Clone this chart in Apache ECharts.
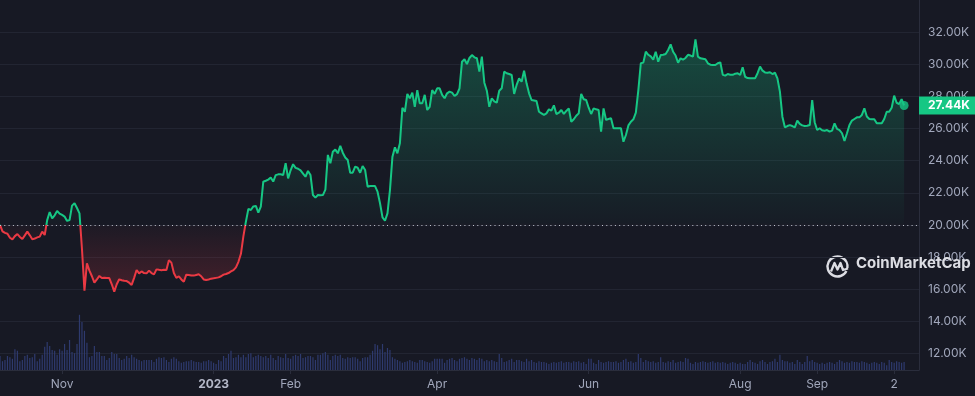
<!DOCTYPE html>
<html><head><meta charset="utf-8">
<script src="https://cdn.jsdelivr.net/npm/echarts@6/dist/echarts.min.js"></script>
<style>html,body{margin:0;padding:0;background:#171924}#c{width:975px;height:396px}</style>
</head><body><div id="c"></div>
<script>
// Daily BTC price (K USD), Oct 7 2022 .. Oct 6 2023
const prices = [
20.0,19.6,19.5,19.45,19.2,19.1,19.3,19.43,19.25,19.12,
19.35,19.58,19.35,19.1,19.15,19.22,19.27,19.58,19.37,20.3,
20.8,20.4,20.6,20.87,20.7,20.62,20.52,20.25,20.3,21.2,
21.35,21.05,20.72,18.5,15.9,17.6,17.15,16.8,16.4,16.6,
16.82,16.69,16.7,16.69,16.69,16.3,15.84,16.3,16.61,16.55,
16.52,16.5,16.4,16.26,16.7,17.19,16.98,17.1,17.0,16.98,
17.15,17.0,16.92,17.23,17.2,17.18,17.2,17.19,17.8,17.65,
17.0,16.7,16.8,16.6,16.46,16.9,16.88,16.85,16.84,16.88,
16.92,16.8,16.6,16.57,16.6,16.65,16.67,16.7,16.73,16.8,
16.9,16.94,17.0,17.1,17.18,17.35,17.7,18.2,19.3,20.2,
21.0,20.93,21.15,21.18,20.76,21.14,22.69,22.75,22.82,22.95,
22.7,23.1,23.15,23.15,23.11,23.84,22.9,23.4,23.78,23.55,
23.5,23.4,23.2,23.0,23.36,23.11,21.86,21.7,21.86,21.85,
21.86,22.2,24.36,23.84,24.56,24.7,24.46,24.92,24.5,24.2,
24.04,23.25,23.25,23.63,23.56,23.25,23.67,23.42,22.38,22.42,
22.42,22.42,22.07,21.35,20.47,20.26,20.72,22.17,24.25,24.83,
24.46,25.08,27.3,27.05,28.16,27.89,28.24,27.36,28.4,27.58,
27.58,28.1,27.16,27.36,28.4,28.16,28.51,28.51,28.1,27.89,
28.2,28.3,28.24,28.03,28.15,28.5,30.17,30.32,30.02,30.4,
30.58,30.44,30.38,29.55,30.48,28.86,28.36,27.36,27.89,27.7,
27.61,28.36,28.51,29.55,29.45,29.4,29.34,28.16,28.72,29.13,
28.92,29.61,28.82,28.2,27.78,27.75,27.72,27.05,26.95,26.85,
26.95,27.2,27.12,27.45,26.91,26.99,27.16,26.91,27.1,27.26,
26.43,26.58,26.8,26.95,28.16,27.83,27.78,27.3,26.91,27.26,
27.2,27.16,25.81,27.26,26.54,26.6,26.64,26.02,26.02,26.02,
26.02,25.18,25.6,26.2,26.43,26.58,27.0,28.4,30.07,30.11,
30.79,30.6,30.5,30.3,30.79,30.17,30.58,30.6,30.65,30.9,
31.25,30.79,30.55,30.1,30.38,30.3,30.4,30.6,30.55,30.48,
31.56,30.48,30.38,30.35,30.32,30.07,29.98,29.96,29.96,30.07,
30.13,29.35,29.3,29.4,29.36,29.35,29.42,29.45,29.34,29.82,
29.23,29.15,29.13,29.13,29.13,29.45,29.86,29.61,29.5,29.48,
29.51,29.4,29.48,29.13,28.3,26.74,26.08,26.16,26.22,26.16,
26.08,26.5,26.29,26.2,26.16,26.18,26.22,27.78,26.4,25.91,
26.02,25.9,25.87,25.91,25.81,25.87,26.33,25.98,25.91,25.71,
25.23,25.71,26.22,26.5,26.6,26.7,26.7,26.85,27.26,26.75,
26.6,26.58,26.58,26.33,26.33,26.33,26.6,27.05,27.05,27.3,
28.05,27.61,27.53,27.83,27.44
];
// Daily volume (billion USD)
const volumes = [
35,22,25,35,32,28,52, 48,22,25,35,38,30,32, 40,22,28,38,58,70,60,
50,48,38,52,48,65,50, 75,45,42,65,138,120,98, 68,32,35,60,45,45,35,
35,25,30,45,40,40,30, 25,28,35,30,38,32,28, 25,22,25,25,25,25,20,
28,32,30,32,25,20,28, 32,28,22,18,20,22,22, 25,22,20,20,18,22,22,
25,22,18,15,25,22,35, 30,40,48,30,32,38,32, 38,32,40,42,32,35,38,
35,32,35,30,38,30,25, 35,32,30,40,30,28,35, 38,35,40,30,32,35,35,
32,25,38,38,42,45,38, 25,35,38,35,38,30,28, 32,30,32,32,28,22,30,
32,32,38,48,65,62,52, 65,45,55,50,32,28,25, 22,18,20,22,25,22,20,
18,25,25,22,20,18,22, 28,28,28,28,18,25,28, 30,25,22,28,30,32,28,
25,30,28,25,30,28,22,25,22,
25,22,20,40,30,20,22, 25,28,20,25,25,22,20, 28,22,25,20,18,22,20,
20,18,15,18,20,18,20, 22,18,20,20,18,22,20, 22,18,20,15,28,28,18,
15,25,20,18,20,22,20, 20,22,18,20,25,28,20, 22,18,20,40,30,20,25,
22,20,22,18,20,32,20, 18,22,20,25,18,20,22, 20,30,28,18,15,20,18,
20,22,20,18,20,22,18, 20,18,20,18,15,18,20, 18,15,18,15,15,20,25,
20,18,15,22,25,20,15, 20,22,28,20,38,25,22, 22,18,20,15,25,20,15,
20,35,22,25,20,18,15, 18,15,18,20,18,15,20, 25,22,18,20,18,22,20,
20,18,22,20,18,15,18, 20,18,15,20,18,12,25, 20,18,22,20,18,20
];
const tickDates = ['2022-11-01','2023-01-01','2023-02-01','2023-04-01','2023-06-01','2023-08-01','2023-09-01','2023-10-02'];
const tickLabels = ['Nov','2023','Feb','Apr','Jun','Aug','Sep','2'];
const baseline = 20;
const yMin = 12, yMax = 33.9, yStep = 2;

const GREEN = '#16c784', RED = '#ea3943';
const dates = [];
const t0 = Date.UTC(2022, 9, 7);
for (let i = 0; i < 371; i++) dates.push(new Date(t0 + i * 86400000).toISOString().slice(0, 10));
const lastIdx = prices.length - 1, lastVal = prices[lastIdx];
const isTick = (idx, v) => tickDates.indexOf(v) >= 0;
const labelColor = '#a1a7bb', lineColor = '#2a2d3c', splitColor = '#222532';

const chart = echarts.init(document.getElementById('c'), null, {renderer: 'canvas'});
chart.setOption({
  backgroundColor: '#171924',
  animation: false,
  textStyle: {fontFamily: 'Inter'},
  grid: [
    {left: 0, right: 56, top: 1.8, height: 351.5},
    {left: 0, right: 56, top: 0, height: 370}
  ],
  xAxis: [
    {type: 'category', gridIndex: 0, data: dates, boundaryGap: false, show: false},
    {type: 'category', gridIndex: 1, data: dates, boundaryGap: false,
     axisLine: {lineStyle: {color: lineColor}},
     axisTick: {show: true, interval: isTick, length: 4, lineStyle: {color: lineColor}},
     axisLabel: {interval: isTick, margin: 8, color: labelColor, fontSize: 12,
       formatter: v => { const t = tickLabels[tickDates.indexOf(v)]; return t === '2023' ? '{b|2023}' : t; },
       rich: {b: {fontWeight: 'bold', color: '#b4b8c8', fontSize: 12}}},
     splitLine: {show: false}}
  ],
  yAxis: [
    {type: 'value', gridIndex: 0, position: 'right', min: yMin, max: yMax, interval: yStep,
     axisLine: {show: false}, axisTick: {show: false},
     axisLabel: {margin: 9, color: labelColor, fontSize: 12, formatter: v => v.toFixed(2) + 'K', showMaxLabel: false},
     splitLine: {show: true, showMaxLine: false, lineStyle: {color: splitColor, width: 1}}},
    {type: 'value', gridIndex: 1, position: 'right', min: 0, max: 925,
     axisLine: {show: true, lineStyle: {color: lineColor}}, axisTick: {show: false},
     axisLabel: {show: false}, splitLine: {show: false}}
  ],
  visualMap: {type: 'piecewise', show: false, seriesIndex: 0, dimension: 1,
    pieces: [{gte: 0, lt: baseline, color: RED}, {gte: baseline, lte: 100, color: GREEN}]},
  series: [
    {type: 'line', xAxisIndex: 0, yAxisIndex: 0, data: prices, symbol: 'none', smooth: false, z: 3,
     lineStyle: {width: 2},
     areaStyle: {origin: baseline, opacity: 1, color: {type: 'linear', x: 0, y: 0, x2: 0, y2: 396, global: true,
       colorStops: [
         {offset: 30 / 396, color: 'rgba(22,199,132,0.30)'},
         {offset: 223 / 396, color: 'rgba(22,199,132,0.02)'},
         {offset: 226 / 396, color: 'rgba(234,57,67,0.03)'},
         {offset: 292 / 396, color: 'rgba(234,57,67,0.22)'}]}},
     markLine: {silent: true, symbol: ['none', 'none'], animation: false,
       data: [
         {yAxis: baseline, lineStyle: {color: '#c3c5cf', type: [1, 3.3], width: 1.2}, label: {show: false}},
         {yAxis: lastVal, lineStyle: {color: 'rgba(0,0,0,0)', width: 0},
          label: {show: true, position: 'end', distance: 0, formatter: lastVal.toFixed(2) + 'K',
            backgroundColor: GREEN, color: '#ffffff', fontWeight: 'bold', fontSize: 12, padding: [3, 9, 3, 9]}}
       ]}},
    {type: 'bar', xAxisIndex: 1, yAxisIndex: 1, data: volumes, barWidth: 1.2,
     itemStyle: {color: '#2e3a6e'}, silent: true, z: 1},
    {type: 'scatter', xAxisIndex: 0, yAxisIndex: 0, data: [[lastIdx, lastVal]], symbolSize: 9,
     itemStyle: {color: GREEN}, silent: true, z: 5}
  ],
  graphic: [
    {type: 'group', left: 825, top: 254, z: 100, children: [
      {type: 'arc', shape: {cx: 11.5, cy: 11, r: 10, startAngle: 0.15 * Math.PI, endAngle: 2.05 * Math.PI},
       style: {fill: 'none', stroke: '#dcdde3', lineWidth: 2.4}},
      {type: 'polyline', shape: {points: [[5, 16], [8.5, 7.5], [11.5, 14], [14.5, 7.5], [17, 14.5], [22, 13]]},
       style: {fill: 'none', stroke: '#dcdde3', lineWidth: 2.3, lineJoin: 'round'}}
    ]},
    {type: 'text', left: 856, top: 256, z: 100,
     style: {text: 'CoinMarketCap', fill: '#dcdde3', font: 'bold 15px Inter'}}
  ]
});
</script></body></html>
